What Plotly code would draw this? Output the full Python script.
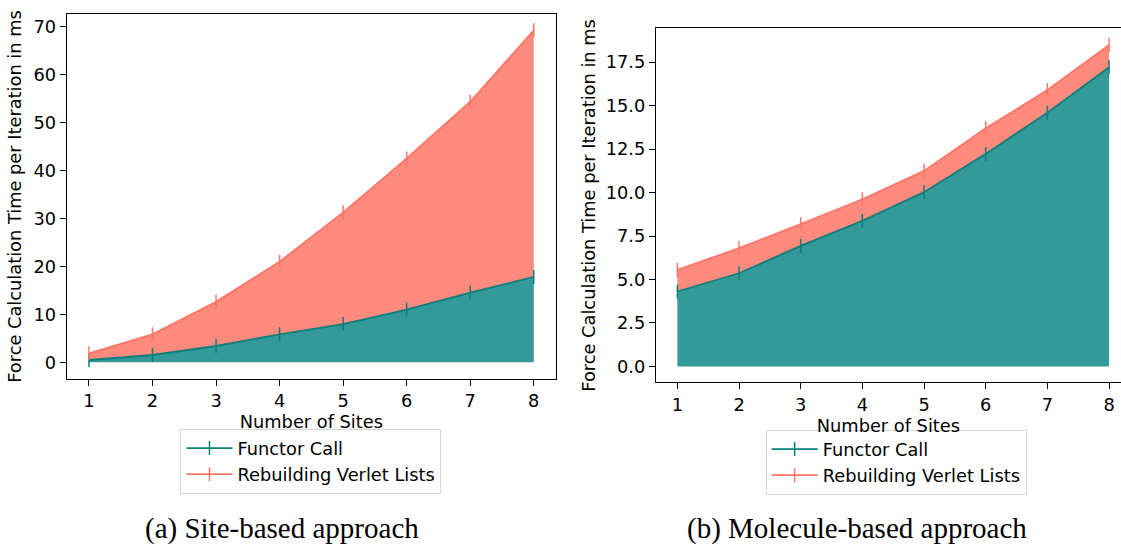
import numpy as np
import plotly.graph_objects as go

sites = [1, 2, 3, 4, 5, 6, 7, 8]

# (a) Site-based approach
site_functor = [0.48, 1.52, 3.4, 5.83, 7.98, 11.0, 14.5, 17.8]
site_rebuild = [1.39, 4.31, 9.2, 15.13, 23.27, 31.5, 39.8, 51.4]

# (b) Molecule-based approach
mol_functor = [4.31, 5.36, 6.93, 8.37, 10.02, 12.22, 14.59, 17.2]
mol_rebuild = [1.24, 1.44, 1.25, 1.24, 1.22, 1.47, 1.30, 1.28]

series_names = ["Functor Call", "Rebuilding Verlet Lists"]
y_title = "Force Calculation Time per Iteration in ms"
x_title = "Number of Sites"
captions = ["(a) Site-based approach", "(b) Molecule-based approach"]

TEAL_LINE = "#0b7f7c"
TEAL_FILL = "rgba(0,128,128,0.8)"
SAL_LINE = "#ff7566"
SAL_FILL = "#ff8a7e"

FONT = "DejaVu Sans"
FS = 17.8

fig = go.Figure()


def add_panel(functor, rebuild, xa, ya, legend):
    functor = np.array(functor)
    top = functor + np.array(rebuild)
    fig.add_trace(go.Scatter(x=sites, y=functor, mode="lines", fill="tozeroy",
                             fillcolor=TEAL_FILL, line=dict(width=0, color=TEAL_LINE),
                             showlegend=False, hoverinfo="skip", xaxis=xa, yaxis=ya))
    fig.add_trace(go.Scatter(x=sites, y=top, mode="lines", fill="tonexty",
                             fillcolor=SAL_FILL, line=dict(width=0, color=SAL_LINE),
                             showlegend=False, hoverinfo="skip", xaxis=xa, yaxis=ya))
    for yv, col, name in [(functor, TEAL_LINE, series_names[0]),
                          (top, SAL_LINE, series_names[1])]:
        fig.add_trace(go.Scatter(x=sites, y=yv, mode="lines+markers", name=name,
                                 line=dict(color=col, width=1.8),
                                 marker=dict(symbol="line-ns", size=10,
                                             line=dict(color=col, width=1.5)),
                                 legend=legend, xaxis=xa, yaxis=ya))


add_panel(site_functor, site_rebuild, "x", "y", "legend")
add_panel(mol_functor, mol_rebuild, "x2", "y2", "legend2")

axis_common = dict(showgrid=False, zeroline=False, showline=True, linecolor="black",
                   linewidth=1, ticks="outside", ticklen=6, tickcolor="black",
                   tickfont=dict(family=FONT, size=FS, color="black"))

legend_common = dict(font=dict(family=FONT, size=FS, color="black"),
                     bgcolor="white", bordercolor="#d6d6d6", borderwidth=1,
                     xanchor="left", yanchor="top", itemwidth=46,
                     traceorder="normal")

fig.update_layout(
    width=1121, height=544,
    margin=dict(l=0, r=0, t=0, b=0),
    paper_bgcolor="white", plot_bgcolor="white",
    font=dict(family=FONT, size=FS, color="black"),
    xaxis=dict(domain=[0.0595, 0.496], range=[0.65, 8.35], tickvals=sites,
               mirror=True, title=dict(text=x_title, standoff=0,
                                       font=dict(family=FONT, size=FS)),
               **axis_common),
    yaxis=dict(domain=[0.3033, 0.9743], range=[-3.48, 72.6],
               tickvals=[0, 10, 20, 30, 40, 50, 60, 70], mirror=True,
               title=dict(text=y_title, standoff=7, font=dict(family=FONT, size=FS)),
               **axis_common),
    xaxis2=dict(domain=[0.585, 1.0], range=[0.65, 8.194], tickvals=sites,
                mirror=True, anchor="y2",
                title=dict(text=x_title, standoff=0, font=dict(family=FONT, size=FS)),
                **axis_common),
    yaxis2=dict(domain=[0.2969, 0.948], range=[-0.92, 19.44],
                tickvals=[0, 2.5, 5, 7.5, 10, 12.5, 15, 17.5], tickformat=".1f",
                mirror=False, anchor="x2",
                title=dict(text=y_title, standoff=5, font=dict(family=FONT, size=FS)),
                **axis_common),
    legend=dict(x=0.161, y=1 - 429 / 544, **legend_common),
    legend2=dict(x=0.683, y=1 - 430 / 544, **legend_common),
)

for cx, txt in zip([282, 857], captions):
    fig.add_annotation(x=cx / 1121, y=1 - 528 / 544, xref="paper", yref="paper",
                       text=txt, showarrow=False, xanchor="center", yanchor="middle",
                       font=dict(family="Liberation Serif", size=29, color="black"))

fig.write_html("out.html")
